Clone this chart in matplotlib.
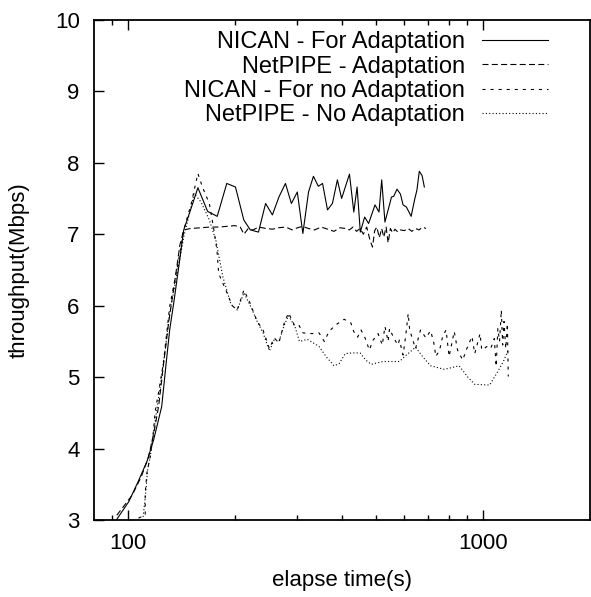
import matplotlib
matplotlib.use("Agg")
import matplotlib.pyplot as plt
from matplotlib.ticker import FixedLocator, NullFormatter

plt.rcParams['font.family'] = ['Liberation Sans', 'DejaVu Sans']
plt.rcParams['lines.scale_dashes'] = False

# NICAN - For Adaptation (solid)
nican_ad_x = [92, 100.5, 107, 113, 118, 124.4, 128, 131, 134.5, 139,
              143.5, 150.7, 157.3, 167.5, 178.3, 189.7, 200.7, 211.8, 221, 233,
              244, 255, 266, 277.5, 288.4, 299.7, 310.7, 322.3, 332.7, 343.5,
              353, 364.5, 376.3, 388.6, 399.4, 420.3, 432.3, 441.6, 450.9, 463.8,
              475.8, 496, 509, 518, 529, 552, 560, 572, 585, 595,
              608, 627, 641, 651, 661, 673, 683]
nican_ad_y = [2.98, 3.26, 3.55, 3.82, 4.12, 4.59, 5.19, 5.66, 6.04, 6.55,
              7.06, 7.37, 7.65, 7.32, 7.25, 7.71, 7.66, 7.2, 7.06, 7.03,
              7.43, 7.27, 7.52, 7.71, 7.43, 7.59, 7.01, 7.59, 7.81, 7.67,
              7.71, 7.34, 7.43, 7.76, 7.5, 7.84, 7.31, 7.66, 7.03, 7.24,
              7.15, 7.41, 7.31, 7.76, 7.17, 7.52, 7.53, 7.63, 7.56, 7.41,
              7.38, 7.25, 7.48, 7.62, 7.88, 7.82, 7.66]

# NetPIPE - Adaptation (long dashes)
netpipe_ad_x = [93, 102.7, 109, 114, 118, 122, 126, 130, 135, 140,
                143.5, 150, 160, 170, 180, 190, 200, 207, 212, 218,
                225, 233, 245, 255, 265, 278, 290, 300, 310, 322,
                335, 350, 365, 380, 395, 410, 420, 430, 440, 450,
                460, 470, 480, 488, 495, 502, 510, 518, 525, 533,
                540, 548, 556, 565, 575, 585, 600, 615, 630, 645,
                660, 675, 690]
netpipe_ad_y = [3.07, 3.35, 3.61, 3.87, 4.2, 4.6, 5.2, 5.75, 6.3, 6.85,
                7.06, 7.08, 7.09, 7.1, 7.1, 7.11, 7.12, 7.1, 7.0, 7.08,
                7.06, 7.1, 7.08, 7.07, 7.09, 7.1, 7.06, 7.09, 7.11, 7.08,
                7.06, 7.1, 7.07, 7.04, 7.09, 7.08, 7.06, 7.1, 7.04, 7.08,
                7.0, 7.1, 6.92, 6.82, 7.05, 7.1, 6.95, 7.08, 6.96, 7.1,
                6.88, 7.08, 7.02, 7.07, 7.03, 7.06, 7.05, 7.08, 7.04, 7.08,
                7.06, 7.1, 7.08]

# NICAN - For no Adaptation (short dashes)
nican_noad_x = [107, 111.8, 111.8, 113, 115.5, 118, 119.2, 122, 125.7, 131,
                138.3, 143.5, 150.7, 157.3, 162, 169.4, 174.5, 178, 180, 188.5,
                196.5, 203, 212, 220, 231, 240, 250, 258, 266, 275,
                283, 294, 302, 311, 330, 345, 357, 368, 384, 406,
                424, 432, 443, 453, 466, 478, 490, 506, 520, 529,
                540, 545, 560, 575, 581, 595, 606, 615, 621, 632,
                645, 666, 690, 711, 725, 736, 754, 769, 786, 802,
                829, 847, 876, 896, 930, 947, 980, 991, 1025, 1050,
                1075, 1088, 1100, 1112, 1125, 1135, 1145, 1158, 1170, 1177]
nican_noad_y = [3.03, 3.07, 3.38, 3.66, 3.89, 4.26, 4.52, 4.8, 5.19, 5.99,
                6.59, 7.06, 7.43, 7.85, 7.66, 7.43, 7.06, 6.78, 6.45, 6.22,
                6.0, 5.94, 6.22, 6.05, 5.78, 5.66, 5.40, 5.55, 5.48, 5.75,
                5.9, 5.73, 5.74, 5.62, 5.61, 5.62, 5.5, 5.64, 5.73, 5.81,
                5.76, 5.64, 5.56, 5.66, 5.54, 5.38, 5.52, 5.61, 5.45, 5.71,
                5.5, 5.68, 5.55, 5.45, 5.52, 5.31, 5.6, 5.89, 5.66, 5.54,
                5.4, 5.66, 5.55, 5.65, 5.5, 5.29, 5.38, 5.57, 5.66, 5.29,
                5.64, 5.38, 5.24, 5.38, 5.57, 5.33, 5.61, 5.38, 5.43, 5.4,
                5.54, 5.15, 5.68, 5.5, 5.94, 5.45, 5.78, 5.4, 5.75, 5.01]

# NetPIPE - No Adaptation (dotted)
netpipe_noad_x = [110, 112, 113.5, 116, 119, 123, 127, 131, 138, 144,
                  150, 153.5, 160.5, 169.4, 177, 185, 195, 203, 212, 222,
                  231, 240, 250, 258, 266, 275, 283, 295, 304, 320,
                  345, 361, 380, 393, 409, 427, 450, 467, 484, 523,
                  581, 608, 645, 675, 711, 778, 856, 906, 947, 1043,
                  1100, 1145, 1177]
netpipe_noad_y = [3.0, 3.35, 3.7, 3.95, 4.35, 4.85, 5.35, 5.9, 6.5, 7.0,
                  7.35, 7.57, 7.45, 7.2, 6.9, 6.4, 6.02, 5.94, 6.18, 5.98,
                  5.78, 5.62, 5.37, 5.52, 5.5, 5.72, 5.86, 5.71, 5.5, 5.53,
                  5.43, 5.29, 5.16, 5.19, 5.33, 5.34, 5.34, 5.24, 5.18, 5.22,
                  5.22, 5.31, 5.42, 5.29, 5.16, 5.11, 5.16, 5.0, 4.9, 4.89,
                  5.08, 5.24, 5.38]

labels = ['NICAN - For Adaptation', 'NetPIPE - Adaptation',
          'NICAN - For no Adaptation', 'NetPIPE - No Adaptation']

fig = plt.figure(figsize=(5.91, 5.97), dpi=100)
ax = fig.add_axes([0.1584, 0.1286, 0.840, 0.8384])

lw = 0.8
ax.plot(nican_ad_x, nican_ad_y, color='black', lw=lw, label=labels[0])
ax.plot(netpipe_ad_x, netpipe_ad_y, color='black', lw=lw, dashes=(4.3, 2.4), label=labels[1])
ax.plot(nican_noad_x, nican_noad_y, color='black', lw=lw, dashes=(2.2, 3.6), label=labels[2])
ax.plot(netpipe_noad_x, netpipe_noad_y, color='black', lw=lw, dashes=(0.8, 1.6), label=labels[3])

ax.set_xscale('log')
ax.set_xlim(80, 2000)
ax.set_ylim(3, 10)
ax.xaxis.set_major_locator(FixedLocator([100, 1000]))
ax.xaxis.set_minor_locator(FixedLocator([90, 200, 300, 400, 500, 600, 700, 800, 900]))
ax.xaxis.set_minor_formatter(NullFormatter())
ax.set_xticklabels(['100', '1000'])
ax.set_yticks(range(3, 11))

ax.tick_params(which='both', direction='in', top=True, right=False, width=1.0, labelsize=16)
ax.tick_params(which='major', length=7)
ax.tick_params(which='minor', length=3.8)
ax.tick_params(axis='x', pad=9)
ax.tick_params(axis='y', pad=10)
for s in ax.spines.values():
    s.set_linewidth(1.3)

ax.set_xlabel('elapse time(s)', fontsize=16, labelpad=12)
ax.set_ylabel('throughput(Mbps)', fontsize=16, labelpad=18)

ax.legend(loc='upper right', bbox_to_anchor=(0.915, 0.977), frameon=False,
          markerfirst=False, fontsize=17, handlelength=2.8, handletextpad=0.72,
          labelspacing=0.1, borderpad=0, borderaxespad=0)

fig.savefig('out.png', dpi=100)
